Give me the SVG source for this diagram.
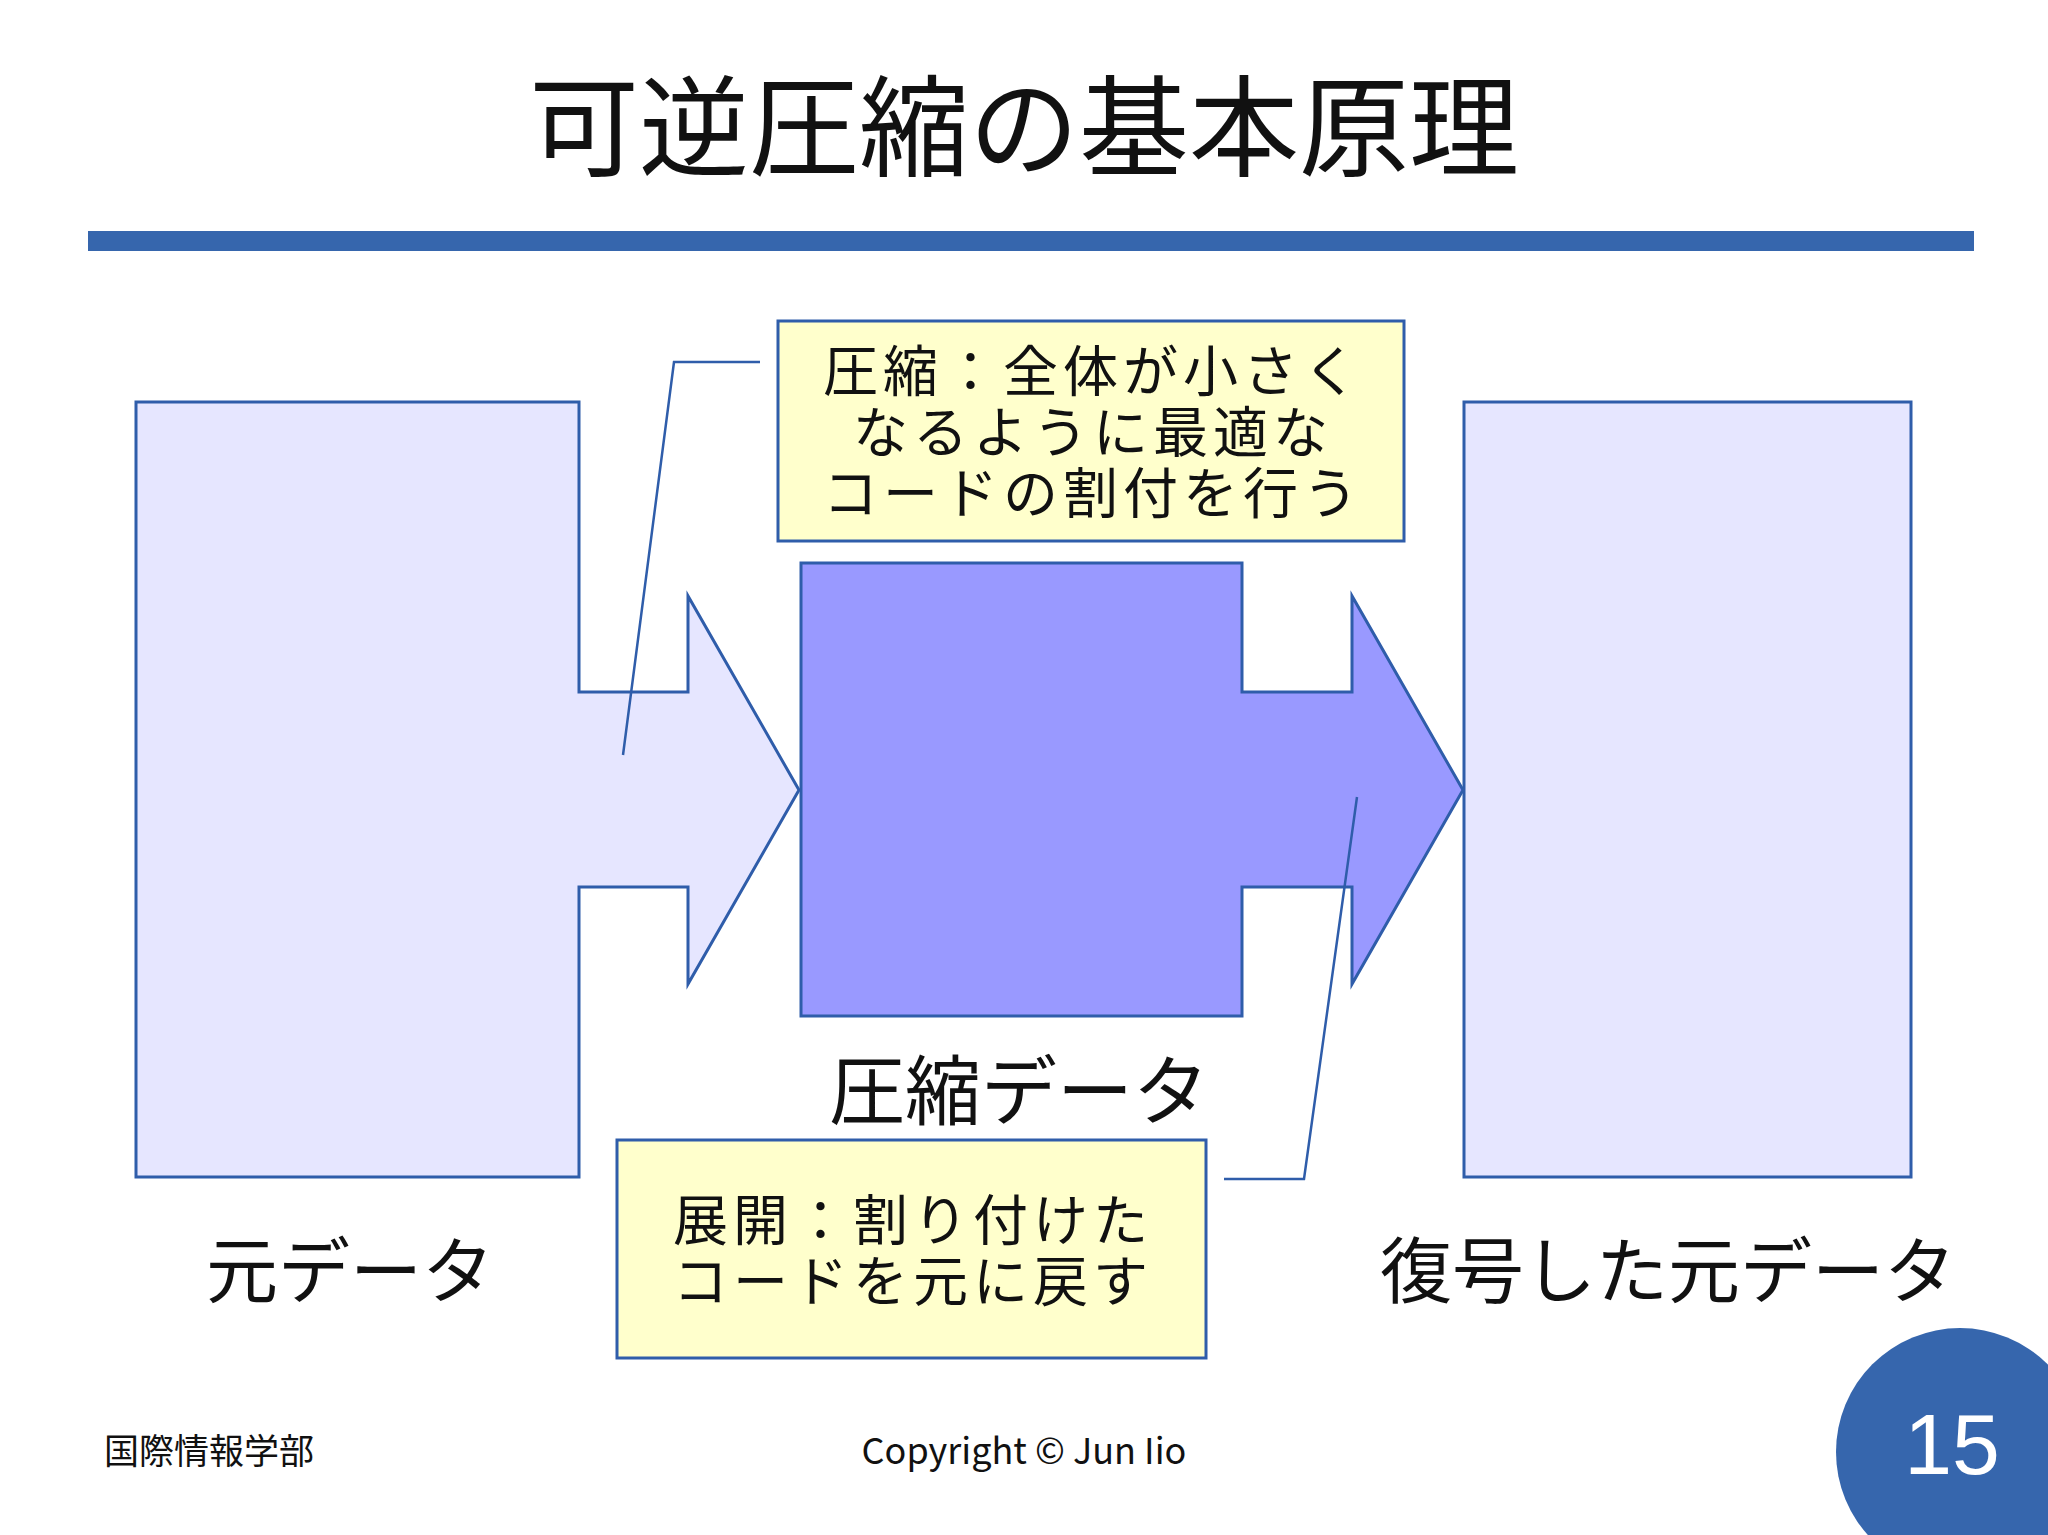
<svg xmlns="http://www.w3.org/2000/svg" width="2048" height="1535" viewBox="0 0 2048 1535">
<style>
text{font-family:"Noto Sans CJK JP","Liberation Sans",sans-serif;fill:#111}
.s{stroke:#2F5DAA;stroke-width:3}
.l{fill:none;stroke:#2F5DAA;stroke-width:2.5}
.c{fill:#FFFFCC;stroke:#2F5DAA;stroke-width:3}
.t{font-size:55px;text-anchor:middle;letter-spacing:5px}
</style>
<rect width="2048" height="1535" fill="#fff"/>
<text x="1024" y="168" font-size="110" text-anchor="middle">可逆圧縮の基本原理</text>
<rect x="88" y="231" width="1886" height="20" fill="#3666AD"/>
<g id="orig"><path class="s" fill="#E6E6FF" d="M136,402 H579 V692 H688 V596 L799,790 L688,984 V887 H579 V1177 H136 Z"/></g>
<g id="comp"><path class="s" fill="#9999FF" d="M801,563 H1242 V692 H1352 V596 L1463,790 L1352,984 V887 H1242 V1016 H801 Z"/></g>
<g id="rest"><rect class="s" fill="#E6E6FF" x="1464" y="402" width="447" height="775"/></g>
<g id="connectors">
<polyline class="l" points="760,362 674,362 623,755"/>
<polyline class="l" points="1224,1179 1304,1179 1357,797"/>
</g>
<g id="callout1"><rect class="c" x="778" y="321" width="626" height="220"/>
<text class="t" x="1093" y="391">圧縮：全体が小さく</text>
<text class="t" x="1093" y="452">なるように最適な</text>
<text class="t" x="1093" y="513">コードの割付を行う</text></g>
<g id="callout2"><rect class="c" x="617" y="1140" width="589" height="218"/>
<text class="t" x="913" y="1240">展開：割り付けた</text>
<text class="t" x="913" y="1301">コードを元に戻す</text></g>
<text x="1019" y="1119" font-size="76" text-anchor="middle">圧縮データ</text>
<text x="350" y="1297" font-size="72" text-anchor="middle">元データ</text>
<text x="1668" y="1297" font-size="72" text-anchor="middle">復号した元データ</text>
<text x="104" y="1464" font-size="35">国際情報学部</text>
<text x="1024" y="1464" font-size="36" text-anchor="middle">Copyright © Jun Iio</text>
<circle cx="1960" cy="1452" r="124" fill="#3666AD"/>
<text x="1952" y="1474" font-size="86" text-anchor="middle" style="fill:#fff;font-family:'Liberation Sans',sans-serif">15</text>
</svg>
